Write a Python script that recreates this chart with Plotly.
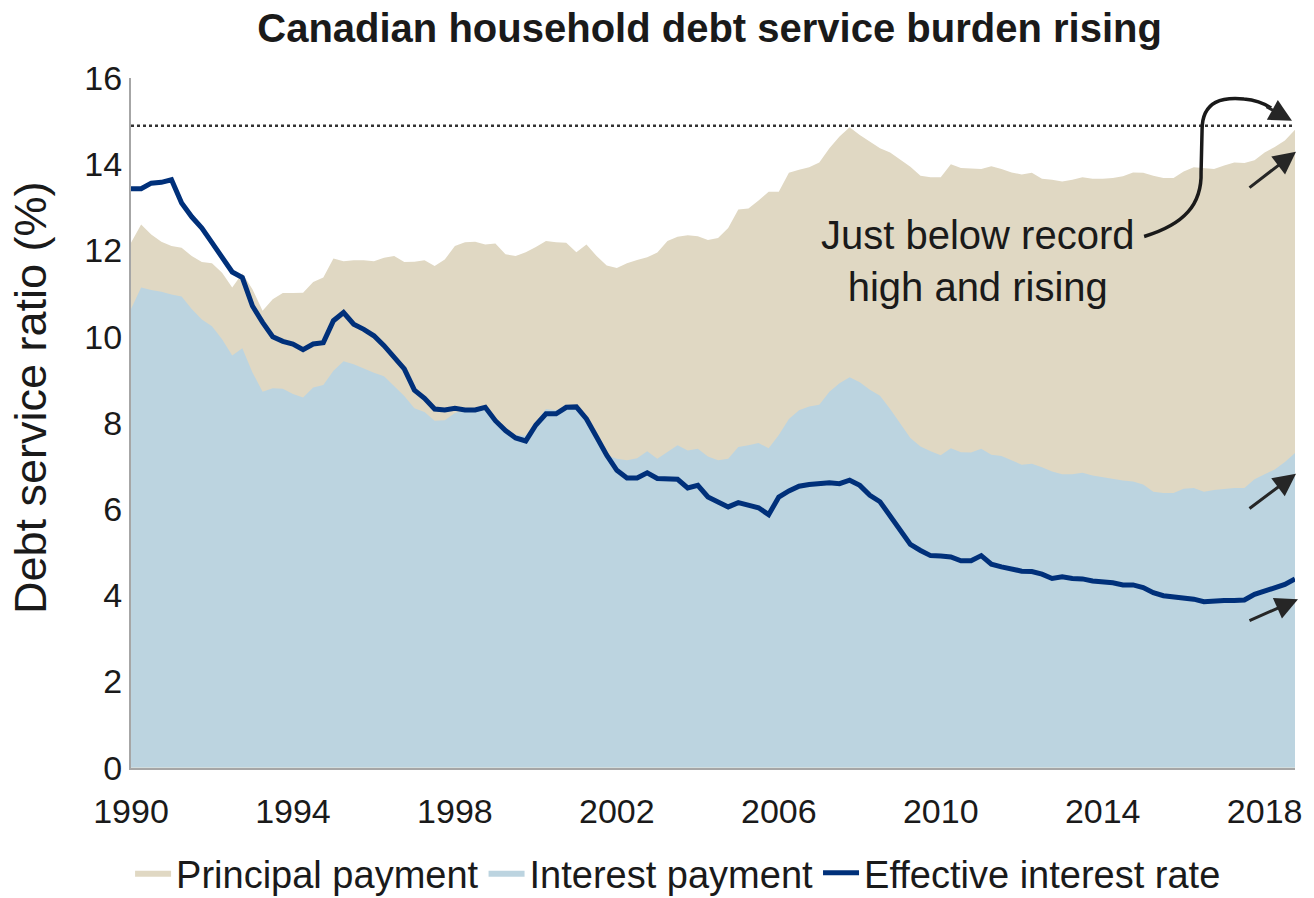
import plotly.graph_objects as go

# Quarterly data, 1990Q1 .. 2018Q4
start_year = 1990
total_dsr = [
    12.18, 12.60, 12.37, 12.20, 12.10, 12.06, 11.87, 11.73, 11.70, 11.48,
    11.14, 11.47, 11.10, 10.60, 10.87, 11.01, 11.01, 11.02, 11.27, 11.37,
    11.81, 11.75, 11.77, 11.77, 11.75, 11.83, 11.87, 11.73, 11.74, 11.77,
    11.64, 11.79, 12.10, 12.19, 12.20, 12.14, 12.16, 11.91, 11.87, 11.96,
    12.08, 12.22, 12.19, 12.18, 11.96, 12.14, 11.87, 11.65, 11.59, 11.70,
    11.78, 11.84, 11.95, 12.22, 12.32, 12.35, 12.33, 12.24, 12.29, 12.52,
    12.95, 12.97, 13.16, 13.36, 13.36, 13.80, 13.87, 13.93, 14.04, 14.37,
    14.64, 14.86, 14.68, 14.53, 14.37, 14.27, 14.10, 13.94, 13.73, 13.70,
    13.70, 14.00, 13.91, 13.90, 13.89, 13.95, 13.89, 13.81, 13.76, 13.80,
    13.66, 13.64, 13.60, 13.64, 13.70, 13.66, 13.66, 13.68, 13.72, 13.81,
    13.80, 13.73, 13.68, 13.68, 13.83, 13.93, 13.91, 13.89, 13.97, 14.04,
    14.03, 14.09, 14.27, 14.40, 14.55, 14.80,
]
interest_dsr = [
    10.64, 11.14, 11.08, 11.04, 10.98, 10.93, 10.64, 10.40, 10.24, 9.94,
    9.56, 9.73, 9.17, 8.72, 8.80, 8.79, 8.67, 8.59, 8.82, 8.88,
    9.21, 9.43, 9.36, 9.26, 9.16, 9.08, 8.86, 8.62, 8.34, 8.25,
    8.05, 8.06, 8.23, 8.29, 8.29, 8.32, 8.10, 7.85, 7.72, 7.70,
    8.02, 8.32, 8.29, 8.38, 8.38, 8.09, 7.67, 7.25, 7.17, 7.13,
    7.18, 7.34, 7.17, 7.32, 7.48, 7.36, 7.40, 7.22, 7.13, 7.17,
    7.44, 7.48, 7.53, 7.41, 7.72, 8.09, 8.29, 8.38, 8.42, 8.72,
    8.92, 9.06, 8.94, 8.77, 8.63, 8.32, 7.98, 7.65, 7.45, 7.34,
    7.25, 7.41, 7.32, 7.31, 7.40, 7.26, 7.23, 7.13, 7.03, 7.05,
    6.97, 6.87, 6.81, 6.81, 6.84, 6.78, 6.74, 6.69, 6.66, 6.64,
    6.57, 6.40, 6.37, 6.37, 6.47, 6.49, 6.40, 6.44, 6.47, 6.49,
    6.49, 6.69, 6.81, 6.92, 7.09, 7.30,
]
effective_rate = [
    13.43, 13.43, 13.56, 13.58, 13.64, 13.10, 12.78, 12.52, 12.18, 11.83,
    11.50, 11.37, 10.71, 10.33, 10.00, 9.89, 9.83, 9.70, 9.83, 9.86,
    10.37, 10.56, 10.29, 10.17, 10.02, 9.79, 9.52, 9.25, 8.76, 8.57,
    8.32, 8.30, 8.34, 8.30, 8.30, 8.36, 8.05, 7.82, 7.65, 7.58,
    7.95, 8.21, 8.21, 8.36, 8.37, 8.09, 7.67, 7.25, 6.90, 6.72,
    6.72, 6.84, 6.71, 6.69, 6.69, 6.49, 6.55, 6.28, 6.17, 6.05,
    6.15, 6.09, 6.03, 5.87, 6.28, 6.42, 6.53, 6.57, 6.60, 6.61,
    6.59, 6.67, 6.55, 6.32, 6.17, 5.84, 5.49, 5.18, 5.04, 4.92,
    4.91, 4.89, 4.80, 4.80, 4.92, 4.72, 4.66, 4.61, 4.56, 4.55,
    4.49, 4.39, 4.43, 4.39, 4.38, 4.33, 4.31, 4.29, 4.24, 4.24,
    4.18, 4.06, 3.99, 3.97, 3.95, 3.91, 3.85, 3.87, 3.88, 3.88,
    3.89, 4.02, 4.10, 4.16, 4.25, 4.38,
]
record_high = 14.89
tick_years = [1990, 1994, 1998, 2002, 2006, 2010, 2014, 2018]
y_ticks = [0, 2, 4, 6, 8, 10, 12, 14, 16]

quarters = [start_year + i / 4 for i in range(len(total_dsr))]

BEIGE = "#E0D8C3"
BLUE = "#BCD4E0"
NAVY = "#00307A"
FONT = "Liberation Sans, Arial, sans-serif"
TXT = "#1a1a1a"

# plot area in pixels (for annotation placement)
W, H = 1314, 898
PL, PR, PT, PB = 131, 1296, 78, 770


def px(xp, yp):
    return (xp - PL) / (PR - PL), (PB - yp) / (PB - PT)


fig = go.Figure()
fig.add_trace(go.Scatter(x=quarters, y=total_dsr, name="Principal payment",
                         mode="lines", line=dict(width=0, color=BEIGE),
                         fill="tozeroy", fillcolor=BEIGE))
fig.add_trace(go.Scatter(x=quarters, y=interest_dsr, name="Interest payment",
                         mode="lines", line=dict(width=0, color=BLUE),
                         fill="tozeroy", fillcolor=BLUE))
fig.add_trace(go.Scatter(x=quarters, y=effective_rate, name="Effective interest rate",
                         mode="lines", line=dict(width=5, color=NAVY)))

shapes = [
    dict(type="line", xref="paper", yref="y", x0=0, x1=1, y0=record_high, y1=record_high,
         line=dict(color="#333333", width=2.5, dash="dot")),
]

# curved callout path (paper coords)
pts = [(1145, 237), (1185, 225), (1203, 205), (1202, 172), (1203, 130),
       (1203, 100), (1225, 97), (1245, 99), (1258, 100), (1266, 104), (1272, 108)]
pp = [px(*p) for p in pts]
path = (f"M {pp[0][0]},{pp[0][1]} C {pp[1][0]},{pp[1][1]} {pp[2][0]},{pp[2][1]} {pp[3][0]},{pp[3][1]} "
        f"L {pp[4][0]},{pp[4][1]} C {pp[5][0]},{pp[5][1]} {pp[6][0]},{pp[6][1]} {pp[7][0]},{pp[7][1]} "
        f"C {pp[8][0]},{pp[8][1]} {pp[9][0]},{pp[9][1]} {pp[10][0]},{pp[10][1]}")
shapes.append(dict(type="path", xref="paper", yref="paper", path=path,
                   line=dict(color=TXT, width=3.5)))

annotations = []
tx, ty = px(978, 262)
annotations.append(dict(xref="paper", yref="paper", x=tx, y=ty, xanchor="center", yanchor="middle",
                        showarrow=False, text="Just below record<br>high and rising",
                        font=dict(family=FONT, size=40, color=TXT), align="center"))

# y-axis title
yx, yy = px(31, 399)
annotations.append(dict(xref="paper", yref="paper", x=yx, y=yy, xanchor="center", yanchor="middle",
                        showarrow=False, text="Debt service ratio (%)", textangle=-90,
                        font=dict(family=FONT, size=45, color=TXT)))


def arrow(tip, tail):
    x, y = px(*tip)
    return dict(xref="paper", yref="paper", x=x, y=y, ax=tail[0] - tip[0], ay=tail[1] - tip[1],
                text="", showarrow=True, arrowhead=2, arrowsize=1.5, arrowwidth=3,
                arrowcolor="#262626")


annotations.append(arrow((1297, 152), (1249, 189)))
annotations.append(arrow((1297, 475), (1249, 511)))
annotations.append(arrow((1299, 601), (1249, 623)))
annotations.append(arrow((1293, 121), (1266, 106)))

fig.update_layout(
    width=W, height=H,
    margin=dict(l=PL, r=W - PR, t=PT, b=H - PB),
    paper_bgcolor="white", plot_bgcolor="white",
    font=dict(family=FONT, size=34, color=TXT),
    title=dict(text="<b>Canadian household debt service burden rising</b>",
               x=0.54, xanchor="center", y=1 - 28 / H, yanchor="middle",
               font=dict(family=FONT, size=40, color=TXT)),
    xaxis=dict(range=[quarters[0], quarters[-1]], tickvals=tick_years,
               ticktext=[str(t) for t in tick_years], showgrid=False, zeroline=False,
               showline=True, linecolor="#A6A6A6", linewidth=2, ticks="",
               ticklabelstandoff=12, tickfont=dict(size=34)),
    yaxis=dict(range=[0, 16], tickvals=y_ticks, showgrid=False, zeroline=False,
               showline=True, linecolor="#A6A6A6", linewidth=2, ticks="", ticklen=0,
               tickfont=dict(size=34)),
    legend=dict(orientation="h", x=0.47, xanchor="center",
                yref="container", y=(H - 873) / H, yanchor="middle",
                font=dict(size=38), traceorder="normal", itemwidth=36),
    shapes=shapes,
    annotations=annotations,
    showlegend=True,
)

fig.write_html("out.html")
